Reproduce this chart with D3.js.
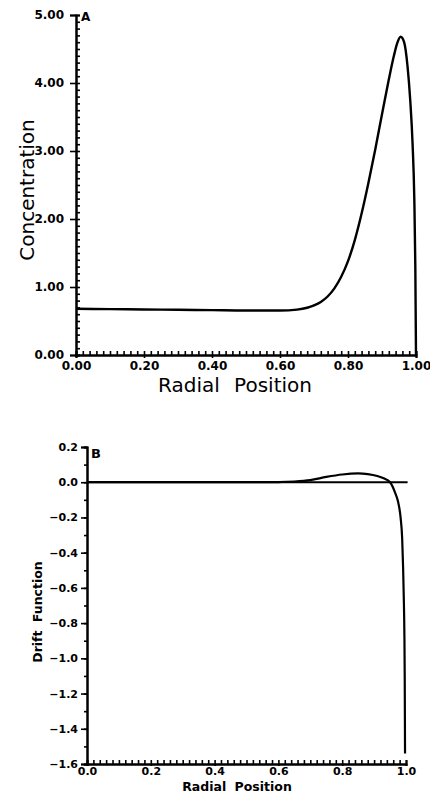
<!DOCTYPE html>
<html>
<head>
<meta charset="utf-8">
<script src="https://cdn.jsdelivr.net/npm/d3@7"></script>
<style>
  html, body { margin: 0; padding: 0; background: #fff; }
  svg { display: block; }
</style>
</head>
<body>
<svg id="chart" width="430" height="799"></svg>
<script>
// ---------- Data ----------
// Panel A: concentration vs radial position
const radialA = [0, 0.1, 0.2, 0.3, 0.4, 0.5, 0.6, 0.65, 0.68, 0.7, 0.72, 0.74, 0.76, 0.78, 0.8, 0.82, 0.84, 0.86, 0.88, 0.9, 0.92, 0.935, 0.945, 0.955, 0.965, 0.975, 0.983, 0.99, 0.995, 0.998, 1.0];
const concentration = [0.68, 0.675, 0.67, 0.665, 0.66, 0.655, 0.655, 0.668, 0.695, 0.73, 0.78, 0.86, 0.98, 1.15, 1.38, 1.69, 2.08, 2.53, 3.02, 3.54, 4.05, 4.4, 4.59, 4.68, 4.6, 4.25, 3.75, 3.1, 2.3, 1.3, 0.0];
const xTicksA = [0, 0.2, 0.4, 0.6, 0.8, 1.0];
const yTicksA = [0, 1, 2, 3, 4, 5];

// Panel B: drift function vs radial position
const radialB = [0, 0.1, 0.2, 0.3, 0.4, 0.5, 0.6, 0.65, 0.7, 0.75, 0.8, 0.85, 0.88, 0.91, 0.93, 0.95, 0.966, 0.975, 0.983, 0.988, 0.991, 0.993, 0.995, 0.996, 0.997];
const drift = [0, 0, 0, 0, 0, 0, 0.001, 0.004, 0.012, 0.03, 0.044, 0.05, 0.046, 0.035, 0.022, 0.0, -0.06, -0.11, -0.2, -0.32, -0.49, -0.65, -0.87, -1.1, -1.54];
const zeroLineX = [0, 1.005];
const zeroLineY = [0, 0];
const xTicksB = [0, 0.2, 0.4, 0.6, 0.8, 1.0];
const yTicksB = [0.2, 0, -0.2, -0.4, -0.6, -0.8, -1.0, -1.2, -1.4, -1.6];

const svg = d3.select("#chart");
const FONT = "DejaVu Sans, sans-serif";

function styleAxis(g, fs) {
  g.attr("font-family", FONT);
  g.selectAll("path.domain").attr("stroke", "#000").attr("stroke-width", 2);
  g.selectAll(".tick line").attr("stroke", "#000").attr("stroke-width", 1.6);
  g.selectAll("text").attr("font-size", fs).attr("font-family", FONT)
    .attr("font-weight", "bold").attr("fill", "#000");
}

// ---------- Panel A ----------
const xA = d3.scaleLinear().domain([0, 1]).range([76, 416]);
const yA = d3.scaleLinear().domain([0, 5]).range([355, 15]);

svg.append("g").attr("transform", `translate(${xA(0)},0)`)
  .call(d3.axisRight(yA).tickValues(d3.range(0, 50.5, 1).map(d => d / 10)).tickSize(4).tickFormat(""))
  .call(g => styleAxis(g, 12));
svg.append("g").attr("transform", `translate(${xA(0)},0)`)
  .call(d3.axisLeft(yA).tickValues(yTicksA).tickSize(6).tickPadding(6).tickFormat(d3.format(".2f")))
  .call(g => styleAxis(g, 12));

svg.append("g").attr("transform", `translate(0,${yA(0)})`)
  .call(d3.axisTop(xA).tickValues(d3.range(0, 50.5, 1).map(d => d / 50)).tickSize(4).tickFormat(""))
  .call(g => styleAxis(g, 12));
svg.append("g").attr("transform", `translate(0,${yA(0)})`)
  .call(d3.axisBottom(xA).tickValues(xTicksA).tickSize(3).tickPadding(3).tickFormat(d3.format(".2f")))
  .call(g => styleAxis(g, 12));

const lineA = d3.line().x(d => xA(d[0])).y(d => yA(d[1])).curve(d3.curveMonotoneX);
svg.append("path")
  .datum(radialA.map((x, i) => [x, concentration[i]]))
  .attr("d", lineA).attr("fill", "none").attr("stroke", "#000").attr("stroke-width", 2.4);

svg.append("text").attr("x", 81).attr("y", 21).text("A")
  .attr("font-family", FONT).attr("font-weight", "bold").attr("font-size", 12);

svg.append("text").attr("x", 235).attr("y", 392).attr("text-anchor", "middle")
  .attr("font-family", FONT).attr("font-size", 20).style("word-spacing", "8px")
  .text("Radial Position");
svg.append("text").attr("transform", "translate(34,190) rotate(-90)").attr("text-anchor", "middle")
  .attr("font-family", FONT).attr("font-size", 20)
  .text("Concentration");

// ---------- Panel B ----------
const xB = d3.scaleLinear().domain([0, 1]).range([87, 406]);
const yB = d3.scaleLinear().domain([-1.6, 0.2]).range([764, 447]);
const fmtB = d3.format(".1f");

svg.append("g").attr("transform", `translate(${xB(0)},0)`)
  .call(d3.axisLeft(yB).tickValues(d3.range(-16, 2.5, 1).map(d => d / 10)).tickSize(3).tickFormat(""))
  .call(g => styleAxis(g, 11));
svg.append("g").attr("transform", `translate(${xB(0)},0)`)
  .call(d3.axisLeft(yB).tickValues(yTicksB).tickSize(6).tickPadding(3).tickFormat(fmtB))
  .call(g => styleAxis(g, 11));

svg.append("g").attr("transform", `translate(0,${yB(-1.6)})`)
  .call(d3.axisTop(xB).tickValues(d3.range(0, 50.5, 1).map(d => d / 50)).tickSize(4).tickFormat(""))
  .call(g => styleAxis(g, 11));
svg.append("g").attr("transform", `translate(0,${yB(-1.6)})`)
  .call(d3.axisBottom(xB).tickValues(xTicksB).tickSize(2).tickPadding(1).tickFormat(fmtB))
  .call(g => styleAxis(g, 11));

const lineB = d3.line().x(d => xB(d[0])).y(d => yB(d[1]));
svg.append("path")
  .datum(zeroLineX.map((x, i) => [x, zeroLineY[i]]))
  .attr("d", lineB).attr("fill", "none").attr("stroke", "#000").attr("stroke-width", 2);
svg.append("path")
  .datum(radialB.map((x, i) => [x, drift[i]]))
  .attr("d", lineB.curve(d3.curveMonotoneX)).attr("fill", "none").attr("stroke", "#000").attr("stroke-width", 2.2);

svg.append("text").attr("x", 91).attr("y", 458).text("B")
  .attr("font-family", FONT).attr("font-weight", "bold").attr("font-size", 13);

svg.append("text").attr("x", 237).attr("y", 791).attr("text-anchor", "middle")
  .attr("font-family", FONT).attr("font-weight", "bold").attr("font-size", 12.5)
  .style("word-spacing", "4px")
  .text("Radial Position");
svg.append("text").attr("transform", "translate(42,612) rotate(-90)").attr("text-anchor", "middle")
  .attr("font-family", FONT).attr("font-weight", "bold").attr("font-size", 12.5)
  .style("word-spacing", "4px")
  .text("Drift Function");
</script>
</body>
</html>
